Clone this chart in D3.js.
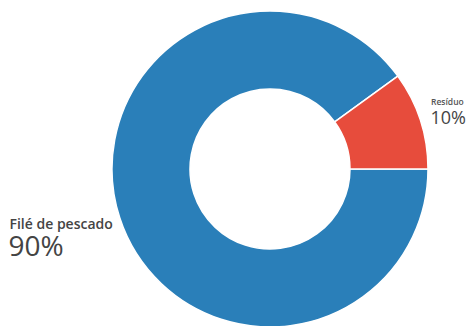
<!DOCTYPE html>
<html><head><meta charset="utf-8">
<script src="https://cdn.jsdelivr.net/npm/d3@7"></script>
<style>body{margin:0;background:#fff}</style>
</head><body>
<svg id="c" width="469" height="326"></svg>
<script>
const categories = ["Filé de pescado", "Resíduo"];
const values = [90, 10];
const valueLabels = ["90%", "10%"];
const colors = ["#2a7fb9", "#e74c3c"];

const svg = d3.select("#c");
const cx = 270, cy = 169, rOuter = 158, rInner = 80;
const pie = d3.pie().sort(null).startAngle(Math.PI/2).endAngle(Math.PI/2 + 2*Math.PI);
const arc = d3.arc().innerRadius(rInner).outerRadius(rOuter);
const g = svg.append("g").attr("transform", `translate(${cx},${cy})`);
g.selectAll("path").data(pie(values)).join("path")
  .attr("d", arc).attr("fill", (d,i)=>colors[i])
  .attr("stroke", "#fff").attr("stroke-width", 1.5);

const font = "'Open Sans', sans-serif";
// Resíduo label
svg.append("text").attr("x", 431).attr("y", 104.5).attr("font-family", font)
  .attr("font-size", 8.5).attr("font-weight", 600).attr("fill", "#555").text(categories[1]);
svg.append("text").attr("x", 430.5).attr("y", 123.5).attr("font-family", font)
  .attr("font-size", 18).attr("font-weight", 500).attr("fill", "#444").text(valueLabels[1]);
// Filé label
svg.append("text").attr("x", 9.5).attr("y", 229).attr("font-family", font)
  .attr("font-size", 14).attr("font-weight", 600).attr("fill", "#444").text(categories[0]);
svg.append("text").attr("x", 8.5).attr("y", 256).attr("font-family", font)
  .attr("font-size", 28).attr("font-weight", 500).attr("fill", "#444").text(valueLabels[0]);
</script>
</body></html>
